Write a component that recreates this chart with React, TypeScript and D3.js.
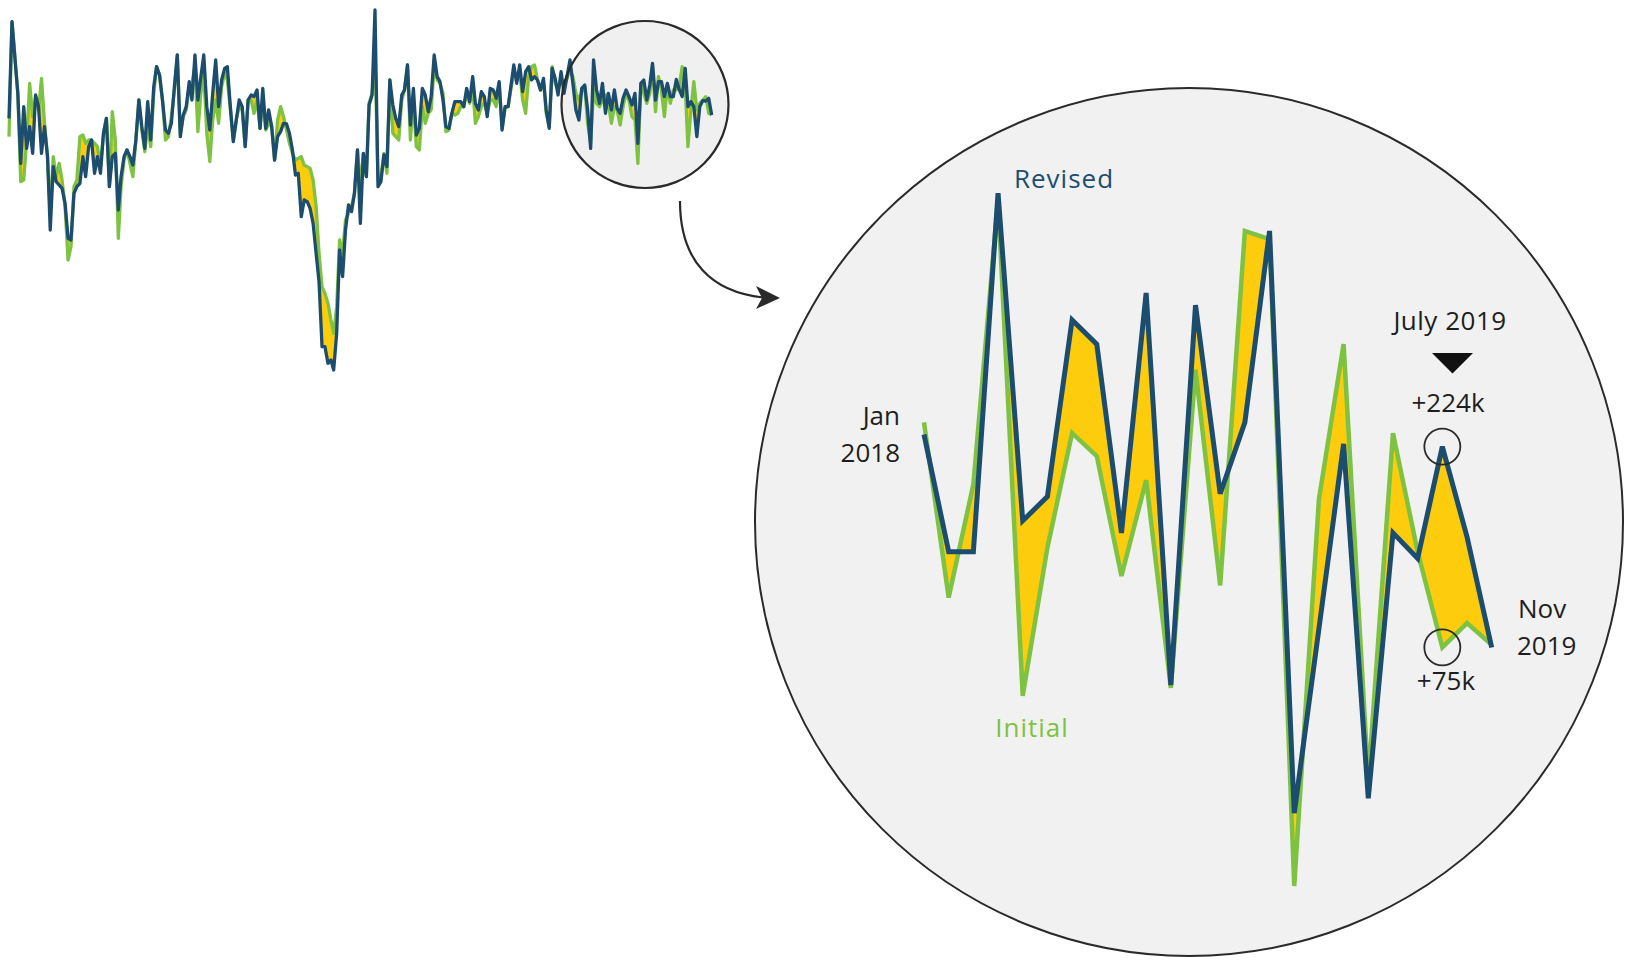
import React from 'react';
import * as d3 from 'd3';

// ---------- data: monthly job gains (thousands), Jan 2000 – Nov 2019 ----------
const smallMonths: Date[] = d3.timeMonth.range(new Date(2000, 0, 1), new Date(2019, 11, 1));

const smallRevised: number[] = [
  114, 462, 336, 204, -48, 156, 6, 84, -12, 198, 156, -12,
  84, -24, -288, -60, -114, -126, -138, -192, -318, -324, -156, -132,
  -120, -24, -96, 12, 36, -84, -24, -84, 60, 114, -132, -24,
  -12, -216, -96, -24, 0, -24, -54, 36, 180, 84, 6, 174,
  36, 228, 300, 270, 180, 72, 60, 96, 228, 342, 48, 126,
  156, 246, 180, 342, 180, 264, 342, 156, 72, 204, 324, 156,
  252, 294, 300, 156, 30, 108, 180, 156, 12, 180, 198, 192,
  216, 78, 222, 78, 144, 84, -36, 48, 66, 96, 94, 60,
  0, -90, -84, -240, -180, -186, -210, -264, -372, -474, -708, -708,
  -768, -756, -792, -660, -360, -456, -288, -198, -222, -156, 0, -264,
  -12, -96, 162, 198, 504, -132, -114, -18, -60, 252, 162, 114,
  84, 198, 216, 306, 90, 222, 54, 78, 222, 198, 138, 192,
  342, 264, 246, 180, 84, 78, 132, 174, 174, 174, 156, 222,
  174, 264, 168, 144, 210, 192, 120, 222, 216, 186, 246, 72,
  156, 156, 228, 306, 240, 306, 210, 282, 300, 252, 264, 252,
  216, 258, 144, 78, 294, 258, 198, 282, 204, 264, 324, 240,
  144, 108, 222, 234, 144, 6, 324, 216, 168, 240, 132, 204,
  144, 216, 150, 132, 186, 216, 192, 162, 204, 24, 240, 252,
  180, 234, 312, 180, 246, 246, 192, 240, 192, 192, 254, 218,
  192, 294, 156, 174, 156, 48, 156, 178, 176, 186, 126,
];

const smallInitial: number[] = [
  48, 462, 336, 204, -114, -108, 36, 240, 120, 192, 144, 258,
  96, -24, -228, -24, -96, -48, -108, -204, -396, -348, -132, -108,
  48, 54, 24, 36, 36, 24, 12, -60, 60, 114, -132, 138,
  36, -318, -132, -36, 0, -48, -96, 36, 180, 72, -6, 84,
  12, 204, 300, 270, 180, 36, 48, 120, 216, 342, 60, 120,
  144, 228, 240, 300, 66, 204, 276, 60, -42, 108, 180, 96,
  228, 276, 252, 144, 36, 108, 156, 144, 12, 180, 180, 132,
  180, 78, 180, 72, 96, 84, -36, 108, 156, 120, 72, 24,
  -12, -36, -30, -24, -54, -60, -66, -108, -204, -372, -492, -516,
  -552, -612, -660, -564, -324, -372, -252, -228, -204, -156, 0, -132,
  -12, -96, 168, 204, 336, -108, -96, -12, -84, 252, 60, 48,
  36, 180, 216, 306, 36, 180, 12, 0, 156, 96, 132, 144,
  300, 252, 240, 204, 66, 72, 132, 126, 132, 156, 156, 204,
  168, 228, 96, 120, 156, 168, 132, 180, 180, 156, 240, 78,
  150, 156, 216, 276, 270, 282, 180, 132, 264, 300, 306, 252,
  216, 246, 132, 84, 300, 240, 216, 252, 240, 258, 288, 264,
  204, 180, 210, 228, 96, 24, 216, 168, 156, 180, 198, 168,
  96, 156, 144, 90, 156, 204, 180, 120, 108, -48, 240, 204,
  168, 204, 300, 138, 264, 216, 120, 228, 168, 216, 216, 228,
  300, 228, 12, 144, 246, 144, 168, 180, 192, 132, 126,
];

// ---------- data: magnified window ----------
const zoomMonths: string[] = [
  'Dec 2017', 'Jan 2018', 'Feb 2018', 'Mar 2018', 'Apr 2018', 'May 2018', 'Jun 2018', 'Jul 2018',
  'Aug 2018', 'Sep 2018', 'Oct 2018', 'Nov 2018', 'Dec 2018', 'Jan 2019', 'Feb 2019', 'Mar 2019',
  'Apr 2019', 'May 2019', 'Jun 2019', 'Jul 2019', 'Aug 2019', 'Sep 2019', 'Oct 2019', 'Nov 2019',
];
const zoomRevised: number[] = [
  233, 146, 146, 412, 169, 187, 318, 300, 160, 338, 47, 329,
  189, 242, 384, -48, 89, 226, -37, 160, 141, 224, 157, 75,
];
const zoomInitial: number[] = [
  242, 112, 196, 407, 39, 149, 234, 217, 128, 199, 45, 281,
  121, 384, 378, -102, 185, 300, -24, 234, 146, 75, 93, 77,
];

const NAVY = '#1c4d6f';
const GREEN = '#7ec242';
const YELLOW = '#fdcc0d';
const INK = '#1e1e1e';
const FONT = "'Open Sans', 'DejaVu Sans', sans-serif";

export default function App() {
  // small overview chart
  const sx = d3.scaleTime()
    .domain([smallMonths[0], smallMonths[smallMonths.length - 1]])
    .range([9, 711.7]);
  const sy = d3.scaleLinear().domain([-800, 540]).range([372.2, 0]);
  const sIdx = smallMonths.map((_, i) => i);
  const sArea = d3.area<number>()
    .x((i) => sx(smallMonths[i]))
    .y0((i) => sy(smallInitial[i]))
    .y1((i) => sy(smallRevised[i]))(sIdx) as string;
  const sLineI = d3.line<number>()
    .x((i) => sx(smallMonths[i]))
    .y((i) => sy(smallInitial[i]))(sIdx) as string;
  const sLineR = d3.line<number>()
    .x((i) => sx(smallMonths[i]))
    .y((i) => sy(smallRevised[i]))(sIdx) as string;

  // magnified chart
  const bx = d3.scalePoint<string>().domain(zoomMonths).range([924, 1491.7]);
  const by = d3.scaleLinear().domain([-100, 400]).range([883.3, 209.4]);
  const bIdx = zoomMonths.map((_, i) => i);
  const bArea = d3.area<number>()
    .x((i) => bx(zoomMonths[i])!)
    .y0((i) => by(zoomInitial[i]))
    .y1((i) => by(zoomRevised[i]))(bIdx) as string;
  const bLineI = d3.line<number>()
    .x((i) => bx(zoomMonths[i])!)
    .y((i) => by(zoomInitial[i]))(bIdx) as string;
  const bLineR = d3.line<number>()
    .x((i) => bx(zoomMonths[i])!)
    .y((i) => by(zoomRevised[i]))(bIdx) as string;

  const hi = zoomMonths.indexOf('Sep 2019');
  const hx = bx(zoomMonths[hi])!;

  return (
    <svg
      width={1625}
      height={960}
      viewBox="0 0 1625 960"
      style={{ position: 'absolute', left: 0, top: 0, background: '#ffffff' }}
      fontFamily={FONT}
    >
      <rect x={0} y={0} width={1625} height={960} fill="#ffffff" />

      {/* small magnifier circle background */}
      <circle cx={645} cy={104.5} r={83.5} fill="#f0f0f0" />

      {/* overview chart */}
      <path d={sArea} fill={YELLOW} stroke="none" />
      <path d={sLineI} fill="none" stroke={GREEN} strokeWidth={3.3} strokeLinejoin="round" />
      <path d={sLineR} fill="none" stroke={NAVY} strokeWidth={3.3} strokeLinejoin="round" />

      <circle cx={645} cy={104.5} r={83.5} fill="none" stroke="#2a2a2a" strokeWidth={2.2} />

      {/* arrow */}
      <path d="M680,201 C680,262 712,292 763,297.5" fill="none" stroke="#2a2a2a" strokeWidth={2.2} />
      <path d="M780,298 L756,286 L762,298 L756,309 Z" fill="#2a2a2a" />

      {/* big magnified circle */}
      <circle cx={1189} cy={522} r={434} fill="#f1f1f1" stroke="#2a2a2a" strokeWidth={2} />

      <path d={bArea} fill={YELLOW} stroke="none" />
      <path d={bLineI} fill="none" stroke={GREEN} strokeWidth={4.5} />
      <path d={bLineR} fill="none" stroke={NAVY} strokeWidth={5} />

      {/* highlight circles */}
      <circle cx={hx} cy={by(zoomRevised[hi])} r={18} fill="none" stroke="#2a2a2a" strokeWidth={1.8} />
      <circle cx={hx} cy={by(zoomInitial[hi])} r={18} fill="none" stroke="#2a2a2a" strokeWidth={1.8} />

      {/* labels */}
      <text x={1064} y={188} textAnchor="middle" fontSize={26} fill={NAVY} letterSpacing={1}>Revised</text>
      <text x={1032} y={737} textAnchor="middle" fontSize={26} fill={GREEN} letterSpacing={1}>Initial</text>

      <text x={900} y={425} textAnchor="end" fontSize={26} fill={INK}>Jan</text>
      <text x={900} y={462} textAnchor="end" fontSize={26} fill={INK}>2018</text>

      <text x={1450} y={330} textAnchor="middle" fontSize={26} fill={INK} letterSpacing={0.5}>July 2019</text>
      <path d="M1432,353 L1473,353 L1452.5,373.5 Z" fill="#111" />
      <text x={1448} y={412} textAnchor="middle" fontSize={26} fill={INK}>+224k</text>
      <text x={1446} y={690} textAnchor="middle" fontSize={26} fill={INK}>+75k</text>

      <text x={1518} y={618} textAnchor="start" fontSize={26} fill={INK}>Nov</text>
      <text x={1517} y={655} textAnchor="start" fontSize={26} fill={INK}>2019</text>
    </svg>
  );
}
